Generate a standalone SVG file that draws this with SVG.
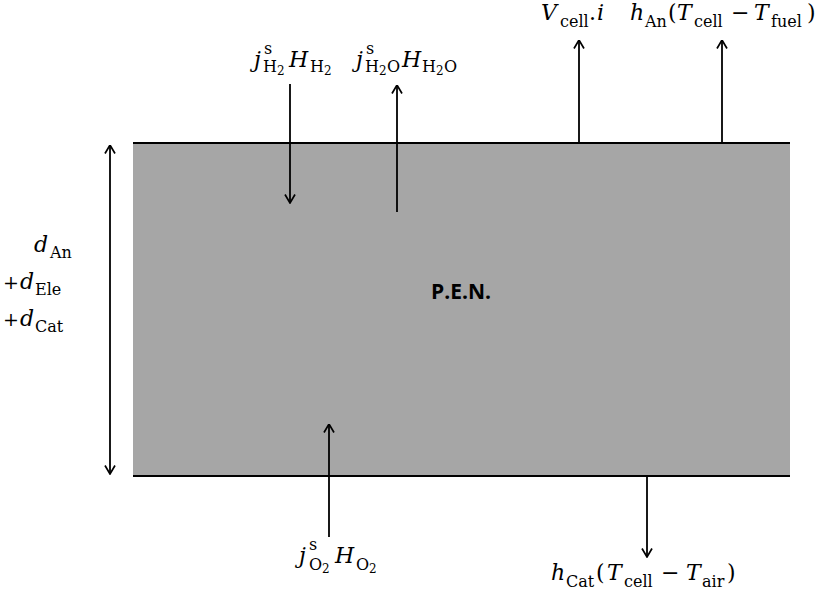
<svg xmlns="http://www.w3.org/2000/svg" width="825" height="598" viewBox="0 0 825 598">
<style>
.m{font-family:"DejaVu Serif","Liberation Serif",serif;font-size:22px;font-style:italic;fill:#000}
.u{font-style:normal}
.p{font-style:normal;font-size:19px}
.s{font-style:normal;font-size:16px}
.ss{font-style:normal;font-size:12px}
.ln{stroke:#000;stroke-width:2;fill:none}
.ar{stroke:#000;stroke-width:1.8;fill:none}
.pen{font-family:"Open Sans","Liberation Sans",sans-serif;font-weight:bold;font-size:21px;fill:#000}
</style>
<defs>
<marker id="ah" viewBox="0 0 10 12" refX="9.5" refY="6" markerWidth="10" markerHeight="12" markerUnits="userSpaceOnUse" orient="auto-start-reverse">
<path d="M1,1 L9.5,6 L1,11" stroke="#000" stroke-width="1.7" fill="none"/>
</marker>
</defs>
<rect width="825" height="598" fill="#fff"/>
<g id="pen">
<rect x="133" y="143" width="657" height="333" fill="#a6a6a6"/>
<line class="ln" x1="133" y1="143" x2="790" y2="143"/>
<line class="ln" x1="133" y1="476" x2="790" y2="476"/>
<text class="pen" x="431" y="299">P.E.N.</text>
</g>
<g id="connectors">
<line class="ar" x1="290" y1="84" x2="290" y2="203" marker-end="url(#ah)"/>
<line class="ar" x1="397" y1="212" x2="397" y2="85" marker-end="url(#ah)"/>
<line class="ar" x1="579" y1="143" x2="579" y2="40" marker-end="url(#ah)"/>
<line class="ar" x1="722" y1="143" x2="722" y2="40" marker-end="url(#ah)"/>
<line class="ar" x1="329" y1="537" x2="329" y2="424" marker-end="url(#ah)"/>
<line class="ar" x1="647" y1="476" x2="647" y2="557" marker-end="url(#ah)"/>
<line class="ar" x1="110" y1="145" x2="110" y2="474" marker-start="url(#ah)" marker-end="url(#ah)"/>
</g>
<g id="label-h2">
<text class="m"><tspan x="254" y="67">j</tspan><tspan class="s" x="264" y="54">s</tspan><tspan class="s" x="263" y="72">H</tspan><tspan class="ss" x="277" y="75">2</tspan><tspan x="289" y="67">H</tspan><tspan class="s" x="310" y="72">H</tspan><tspan class="ss" x="324" y="75">2</tspan></text>
</g>
<g id="label-h2o">
<text class="m"><tspan x="356" y="67">j</tspan><tspan class="s" x="366" y="54">s</tspan><tspan class="s" x="365" y="72">H</tspan><tspan class="ss" x="379" y="75">2</tspan><tspan class="s" x="387" y="72">O</tspan><tspan x="402" y="67">H</tspan><tspan class="s" x="422" y="72">H</tspan><tspan class="ss" x="436" y="75">2</tspan><tspan class="s" x="444" y="72">O</tspan></text>
</g>
<g id="label-vcell">
<text class="m"><tspan x="541" y="20">V</tspan><tspan class="s" x="560" y="27">cell</tspan><tspan class="u" x="589" y="20">.</tspan><tspan x="597" y="20">i</tspan></text>
</g>
<g id="label-han">
<text class="m"><tspan x="630" y="20">h</tspan><tspan class="s" x="645" y="27">An</tspan><tspan class="u" x="668" y="20">(</tspan><tspan x="677" y="20">T</tspan><tspan class="s" x="694" y="27">cell</tspan><tspan class="u" x="731" y="20">−</tspan><tspan x="754" y="20">T</tspan><tspan class="s" x="771" y="27">fuel</tspan><tspan class="u" x="807" y="20">)</tspan></text>
</g>
<g id="label-d">
<text class="m"><tspan x="34" y="252">d</tspan><tspan class="s" x="50" y="258">An</tspan><tspan class="p" x="3" y="289">+</tspan><tspan x="20" y="289">d</tspan><tspan class="s" x="35" y="295">Ele</tspan><tspan class="p" x="3" y="326">+</tspan><tspan x="20" y="326">d</tspan><tspan class="s" x="35" y="332">Cat</tspan></text>
</g>
<g id="label-o2">
<text class="m"><tspan x="299" y="563">j</tspan><tspan class="s" x="309" y="550">s</tspan><tspan class="s" x="309" y="570">O</tspan><tspan class="ss" x="322" y="573">2</tspan><tspan x="335" y="563">H</tspan><tspan class="s" x="356" y="570">O</tspan><tspan class="ss" x="369" y="573">2</tspan></text>
</g>
<g id="label-hcat">
<text class="m"><tspan x="551" y="580">h</tspan><tspan class="s" x="566" y="587">Cat</tspan><tspan class="u" x="596" y="580">(</tspan><tspan x="607" y="580">T</tspan><tspan class="s" x="624" y="587">cell</tspan><tspan class="u" x="661" y="580">−</tspan><tspan x="686" y="580">T</tspan><tspan class="s" x="702" y="587">air</tspan><tspan class="u" x="727" y="580">)</tspan></text>
</g>
</svg>
